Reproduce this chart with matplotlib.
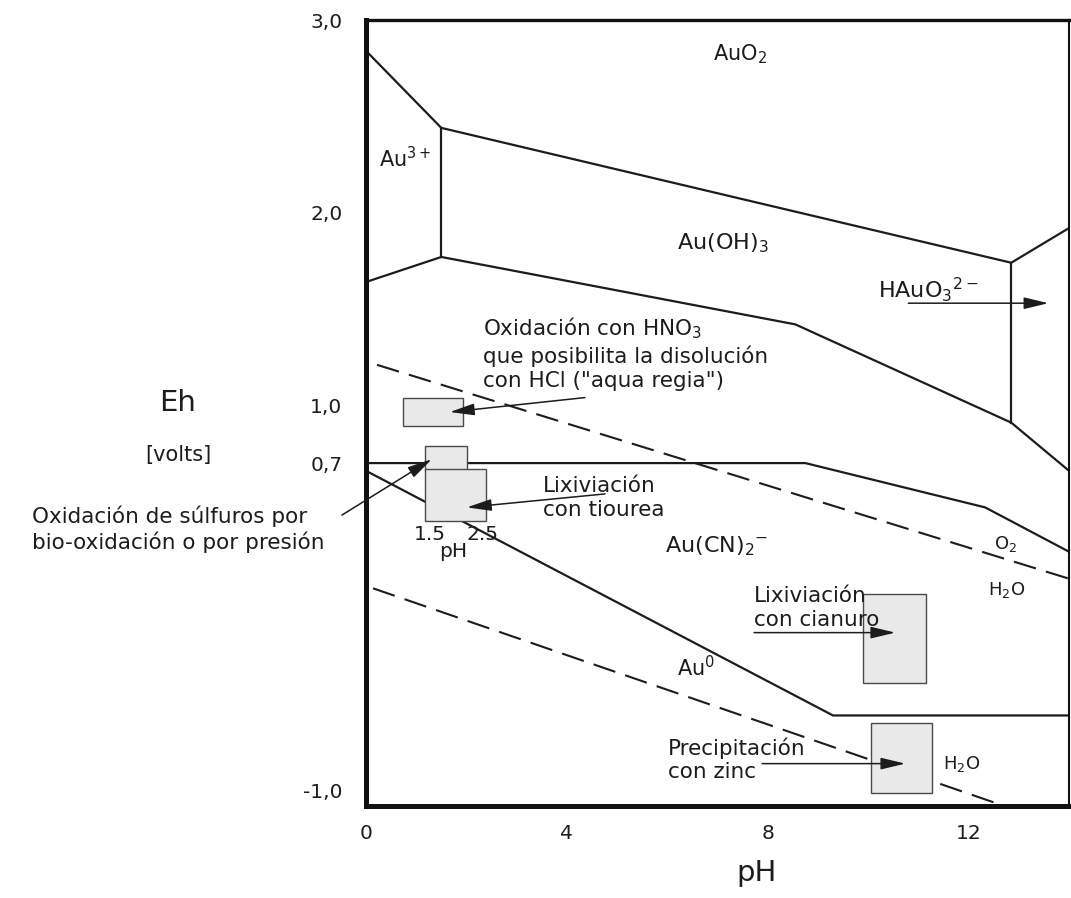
import matplotlib
matplotlib.use('Agg')
import matplotlib.pyplot as plt
from matplotlib.patches import Rectangle

plt.rcParams['font.family'] = ['DejaVu Sans']
plt.rcParams['mathtext.default'] = 'regular'

# Eh-pH diagram for the Au-CN-H2O system (pH, Eh in volts)
# stability field boundaries
au3_top_ph = [0.0, 1.5, 12.85, 14.0]
au3_top_eh = [2.84, 2.44, 1.74, 1.92]
au3_side_ph = [1.5, 1.5]
au3_side_eh = [2.44, 1.77]
hydrox_low_ph = [0.0, 1.5, 8.55, 12.85, 14.0]
hydrox_low_eh = [1.64, 1.77, 1.42, 0.91, 0.66]
hauo3_side_ph = [12.85, 12.85]
hauo3_side_eh = [1.74, 0.91]
cn_top_ph = [0.0, 8.75, 12.33, 14.0]
cn_top_eh = [0.70, 0.70, 0.47, 0.24]
au0_ph = [0.0, 9.3, 14.0]
au0_eh = [0.66, -0.61, -0.61]

# water stability limits
o2_ph = [0.22, 14.0]
o2_eh = [1.21, 0.10]
h2_ph = [0.14, 12.6]
h2_eh = [0.05, -1.07]

# process windows: (pH min, pH max, Eh min, Eh max)
box_hno3 = (0.74, 1.93, 0.89, 1.04)
box_bio = (1.18, 2.01, 0.66, 0.79)
box_tiourea = (1.18, 2.39, 0.40, 0.67)
box_cianuro = (9.90, 11.16, -0.44, 0.02)
box_zinc = (10.06, 11.27, -1.01, -0.65)

x_ticks = [0, 4, 8, 12]
y_ticks = [-1.0, 0.7, 1.0, 2.0, 3.0]
y_labels = ['-1,0', '0,7', '1,0', '2,0', '3,0']

ink = '#1c1c1c'

fig = plt.figure(figsize=(10.71, 8.98), dpi=100)
fig.patch.set_facecolor('white')
ax = fig.add_axes([366 / 1071, 1 - 806 / 898, 703 / 1071, 786 / 898])
ax.set_xlim(0, 14)
ax.set_ylim(-1.08, 3.0)

lw = 1.6
for xs, ys in [(au3_top_ph, au3_top_eh), (au3_side_ph, au3_side_eh),
               (hydrox_low_ph, hydrox_low_eh), (hauo3_side_ph, hauo3_side_eh),
               (cn_top_ph, cn_top_eh), (au0_ph, au0_eh)]:
    ax.plot(xs, ys, color=ink, lw=lw, solid_joinstyle='miter', zorder=2)

for xs, ys in [(o2_ph, o2_eh), (h2_ph, h2_eh)]:
    ax.plot(xs, ys, color=ink, lw=1.5, ls=(0, (11, 5)), zorder=2)

for b in [box_hno3, box_bio, box_tiourea, box_cianuro, box_zinc]:
    ax.add_patch(Rectangle((b[0], b[2]), b[1] - b[0], b[3] - b[2],
                           facecolor='#e9e9e9', edgecolor='#4a4a4a', lw=1.0, zorder=3))

arrow = dict(arrowstyle='-|>,head_length=0.75,head_width=0.18', color=ink, lw=1.1,
             shrinkA=0, shrinkB=0, mutation_scale=20)
arrows = [((4.36, 1.04), (1.67, 0.965)),
          ((-0.48, 0.43), (1.31, 0.72)),
          ((4.76, 0.54), (2.01, 0.47)),
          ((7.73, -0.18), (10.54, -0.18)),
          ((7.89, -0.86), (10.74, -0.86)),
          ((10.80, 1.53), (13.59, 1.53))]
for tail, head in arrows:
    ax.annotate('', xy=head, xytext=tail, arrowprops=arrow, zorder=4,
                annotation_clip=False)

# species labels
species = [('AuO$_2$', 7.45, 2.82, 15), ('Au$^{3+}$', 0.78, 2.28, 15),
           ('Au(OH)$_3$', 7.11, 1.84, 16), ('HAuO$_3$$^{2-}$', 11.2, 1.60, 16),
           ('Au(CN)$_2$$^{-}$', 6.99, 0.27, 16), ('O$_2$', 12.73, 0.28, 13),
           ('H$_2$O', 12.75, 0.04, 13), ('Au$^0$', 6.57, -0.36, 15),
           ('H$_2$O', 11.87, -0.86, 13)]
for s, x, y, fs in species:
    ax.text(x, y, s, ha='center', va='center', fontsize=fs, color=ink, zorder=5)

note_fs = 15.5
ax.text(2.33, 1.27, 'Oxidación con HNO$_3$\nque posibilita la disolución\ncon HCl ("aqua regia")',
        ha='left', va='center', fontsize=note_fs, color=ink, linespacing=1.25, zorder=5)
ax.text(3.53, 0.52, 'Lixiviación\ncon tiourea', ha='left', va='center',
        fontsize=note_fs, color=ink, linespacing=1.25, zorder=5)
ax.text(7.73, -0.05, 'Lixiviación\ncon cianuro', ha='left', va='center',
        fontsize=note_fs, color=ink, linespacing=1.25, zorder=5)
ax.text(6.02, -0.84, 'Precipitación\ncon zinc', ha='left', va='center',
        fontsize=note_fs, color=ink, linespacing=1.2, zorder=5)

# pH window of the thiourea leach
ax.text(1.27, 0.33, '1.5', ha='center', va='center', fontsize=14.5, color=ink, zorder=5)
ax.text(2.33, 0.33, '2.5', ha='center', va='center', fontsize=14.5, color=ink, zorder=5)
ax.text(1.73, 0.24, 'pH', ha='center', va='center', fontsize=14.5, color=ink, zorder=5)

fig.text(32 / 1071, 1 - 529 / 898, 'Oxidación de súlfuros por\nbio-oxidación o por presión',
         ha='left', va='center', fontsize=note_fs, color=ink, linespacing=1.25)
fig.text(178 / 1071, 1 - 403 / 898, 'Eh', ha='center', va='center', fontsize=21, color=ink)
fig.text(178 / 1071, 1 - 455 / 898, '[volts]', ha='center', va='center', fontsize=15, color=ink)
ax.text((757 - 366) / 703, -(873 - 806) / 786, 'pH', transform=ax.transAxes,
        ha='center', va='center', fontsize=21, color=ink)

ax.set_xticks(x_ticks)
ax.set_xticklabels([str(t) for t in x_ticks])
ax.set_yticks(y_ticks)
ax.set_yticklabels(y_labels)
ax.tick_params(axis='y', length=0, pad=17, labelsize=14.5, labelcolor=ink)
ax.tick_params(axis='x', length=0, pad=13, labelsize=14.5, labelcolor=ink)

ax.spines['left'].set_linewidth(3.6)
ax.spines['bottom'].set_linewidth(3.6)
ax.spines['top'].set_linewidth(2.4)
ax.spines['right'].set_linewidth(1.5)
for sp in ax.spines.values():
    sp.set_color('#111111')

plt.savefig('out.png', dpi=100)
plt.close()
